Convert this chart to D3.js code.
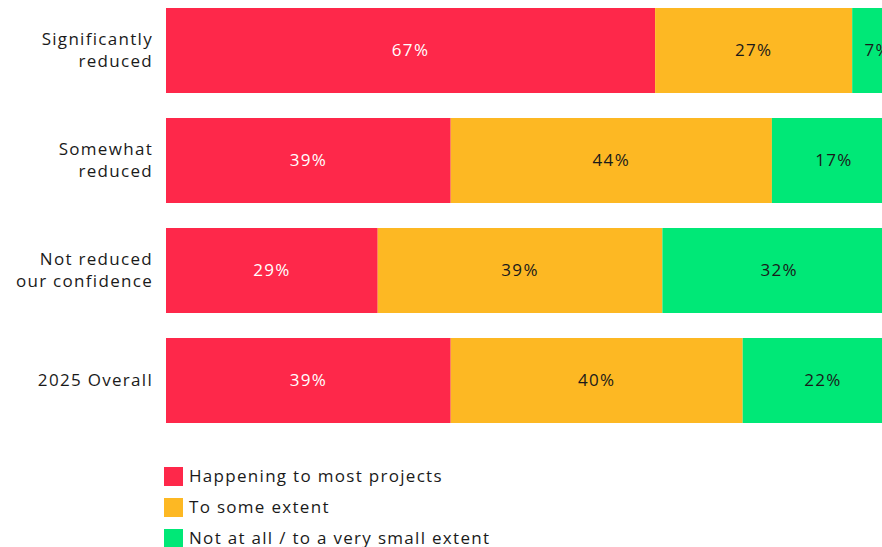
<!DOCTYPE html>
<html>
<head>
<meta charset="utf-8">
<script src="https://cdn.jsdelivr.net/npm/d3@7"></script>
<style>
  body { margin: 0; background: #fff; }
  svg { display: block; font-family: "Open Sans", "Noto Sans", sans-serif; letter-spacing: 1.3px; }
</style>
</head>
<body>
<div id="chart"></div>
<script>
// categories (rows), top to bottom
const categories = [
  ["Significantly", "reduced"],
  ["Somewhat", "reduced"],
  ["Not reduced", "our confidence"],
  ["2025 Overall"]
];
const rowKeys = ["sig", "some", "not", "overall"];

// series
const seriesNames = ["Happening to most projects", "To some extent", "Not at all / to a very small extent"];
const happening = [67, 39, 29, 39];
const someExtent = [27, 44, 39, 40];
const notAtAll = [7, 17, 32, 22];

const colors = ["#fe284a", "#fdb823", "#00e877"];
const labelColors = ["#ffffff", "#1a1a1a", "#1a1a1a"];

const width = 882, height = 547;
const margin = { top: 8, left: 166 };

const data = rowKeys.map((k, i) => ({
  key: k,
  s0: happening[i],
  s1: someExtent[i],
  s2: notAtAll[i]
}));

const svg = d3.select("#chart")
  .append("svg")
  .attr("width", width)
  .attr("height", height);

// x scale: 100% extends slightly past the right edge (clipped like the original)
const x = d3.scaleLinear()
  .domain([0, 100])
  .range([margin.left, 896]);

// 85px bars, 110px step
const y = d3.scaleBand()
  .domain(rowKeys)
  .range([margin.top, margin.top + 110 * 4 - 25])
  .paddingInner(25 / 110)
  .paddingOuter(0);

const stack = d3.stack().keys(["s0", "s1", "s2"]);
const layers = stack(data);

const g = svg.append("g");

layers.forEach((layer, li) => {
  const lg = g.append("g");
  lg.selectAll("rect")
    .data(layer)
    .enter()
    .append("rect")
    .attr("x", d => x(d[0]))
    .attr("y", d => y(d.data.key))
    .attr("width", d => x(d[1]) - x(d[0]))
    .attr("height", y.bandwidth())
    .attr("fill", colors[li]);

  lg.selectAll("text")
    .data(layer)
    .enter()
    .append("text")
    .attr("x", d => (x(d[0]) + x(d[1])) / 2)
    .attr("y", d => y(d.data.key) + y.bandwidth() / 2)
    .attr("dy", "0.35em")
    .attr("text-anchor", "middle")
    .attr("font-size", 17)
    .attr("fill", labelColors[li])
    .text(d => (d[1] - d[0]) + "%");
});

// category labels
const yAxis = svg.append("g");
rowKeys.forEach((k, i) => {
  const lines = categories[i];
  const cy = y(k) + y.bandwidth() / 2;
  const lh = 22;
  const t = yAxis.append("text")
    .attr("text-anchor", "end")
    .attr("font-size", 17)
    .attr("fill", "#1a1a1a");
  lines.forEach((ln, j) => {
    t.append("tspan")
      .attr("x", 153)
      .attr("y", cy + (j - (lines.length - 1) / 2) * lh)
      .attr("dy", "0.35em")
      .text(ln);
  });
});

// legend
const legend = svg.append("g").attr("transform", "translate(164,467)");
seriesNames.forEach((name, i) => {
  const row = legend.append("g").attr("transform", `translate(0,${i * 31})`);
  row.append("rect")
    .attr("width", 19)
    .attr("height", 19)
    .attr("fill", colors[i]);
  row.append("text")
    .attr("x", 25)
    .attr("y", 9.5)
    .attr("dy", "0.35em")
    .attr("font-size", 17)
    .attr("fill", "#1a1a1a")
    .text(name);
});
</script>
</body>
</html>
